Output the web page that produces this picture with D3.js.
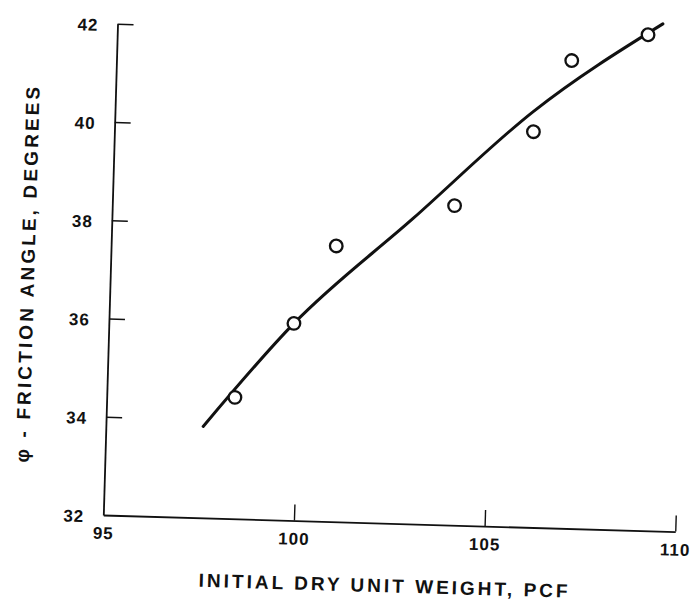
<!DOCTYPE html>
<html>
<head>
<meta charset="utf-8">
<script src="https://cdn.jsdelivr.net/npm/d3@7"></script>
<style>
  html, body { margin: 0; padding: 0; background: #fff; }
  svg { display: block; }
  text { font-family: "Liberation Sans", Arial, sans-serif; fill: #111; }
</style>
</head>
<body>
<svg id="chart" width="691" height="605"></svg>
<script>
// ---- data ----
const xTicks = [95, 100, 105, 110];
const yTicks = [32, 34, 36, 38, 40, 42];
const xTitle = "INITIAL DRY UNIT WEIGHT, PCF";
const yTitle = "\u03C6 - FRICTION ANGLE, DEGREES";

// measured test points (dry unit weight, friction angle)
const pointX = [98.36, 99.85, 100.90, 103.97, 105.98, 106.93, 108.91];
const pointY = [34.47, 36.01, 37.61, 38.50, 40.05, 41.52, 42.09];

// hand-drawn trend curve
const curveX = [97.55, 99.85, 102.90, 105.96, 109.29];
const curveY = [33.86, 36.01, 38.22, 40.46, 42.32];

// ---- layout ----
const svg = d3.select("#chart");
const originX = 103.3, originY = 515;   // plot origin on the page
const plotW = 572.2, plotH = 491.4;
const tilt = 1.66;                       // scanned page is slightly rotated

const x = d3.scaleLinear().domain([95, 110]).range([0, plotW]);
const y = d3.scaleLinear().domain([32, 42]).range([0, -plotH]);

const g = svg.append("g")
  .attr("transform", `translate(${originX},${originY}) rotate(${tilt})`);

// axes
const yAxis = d3.axisLeft(y)
  .tickValues(yTicks)
  .tickFormat(d3.format("d"))
  .tickSizeInner(-16)
  .tickSizeOuter(0)
  .tickPadding(19);

const xAxis = d3.axisBottom(x)
  .tickValues(xTicks)
  .tickFormat(d3.format("d"))
  .tickSizeInner(-16)
  .tickSizeOuter(0)
  .tickPadding(12);

const gy = g.append("g").call(yAxis);
const gx = g.append("g").call(xAxis);

[gy, gx].forEach(a => {
  a.select(".domain").attr("stroke", "#111").attr("stroke-width", 1.8);
  a.selectAll(".tick line").attr("stroke", "#111").attr("stroke-width", 1.4);
  a.selectAll(".tick text")
    .attr("fill", "#111")
    .attr("font-family", "'Liberation Sans', Arial, sans-serif")
    .attr("font-size", 17)
    .attr("font-weight", "bold")
    .style("letter-spacing", "1px");
});
gy.selectAll(".tick text").attr("dy", "0.42em");
// hide tick marks that fall on the other axis
gy.selectAll(".tick").filter(d => d === 32).select("line").remove();
gx.selectAll(".tick").filter(d => d === 95).select("line").remove();

// titles
g.append("text")
  .attr("x", 281.8)
  .attr("y", 64)
  .attr("text-anchor", "middle")
  .attr("dominant-baseline", "middle")
  .attr("textLength", 369)
  .attr("lengthAdjust", "spacing")
  .attr("font-size", 19)
  .attr("font-weight", "bold")
  .text(xTitle);

g.append("text")
  .attr("transform", "translate(-81,-238) rotate(-90)")
  .attr("text-anchor", "middle")
  .attr("dominant-baseline", "middle")
  .attr("textLength", 376)
  .attr("lengthAdjust", "spacing")
  .attr("font-size", 19)
  .attr("font-weight", "bold")
  .text(yTitle);

// trend curve
const curveData = curveX.map((v, i) => [v, curveY[i]]);
g.append("path")
  .datum(curveData)
  .attr("fill", "none")
  .attr("stroke", "#111")
  .attr("stroke-width", 3)
  .attr("stroke-linecap", "round")
  .attr("d", d3.line()
    .x(d => x(d[0]))
    .y(d => y(d[1]))
    .curve(d3.curveMonotoneX));

// test points
const pts = pointX.map((v, i) => ({ x: v, y: pointY[i] }));
g.selectAll("circle.pt")
  .data(pts)
  .join("circle")
  .attr("class", "pt")
  .attr("cx", d => x(d.x))
  .attr("cy", d => y(d.y))
  .attr("r", 6.3)
  .attr("fill", "#fff")
  .attr("stroke", "#111")
  .attr("stroke-width", 2.3);
</script>
</body>
</html>
